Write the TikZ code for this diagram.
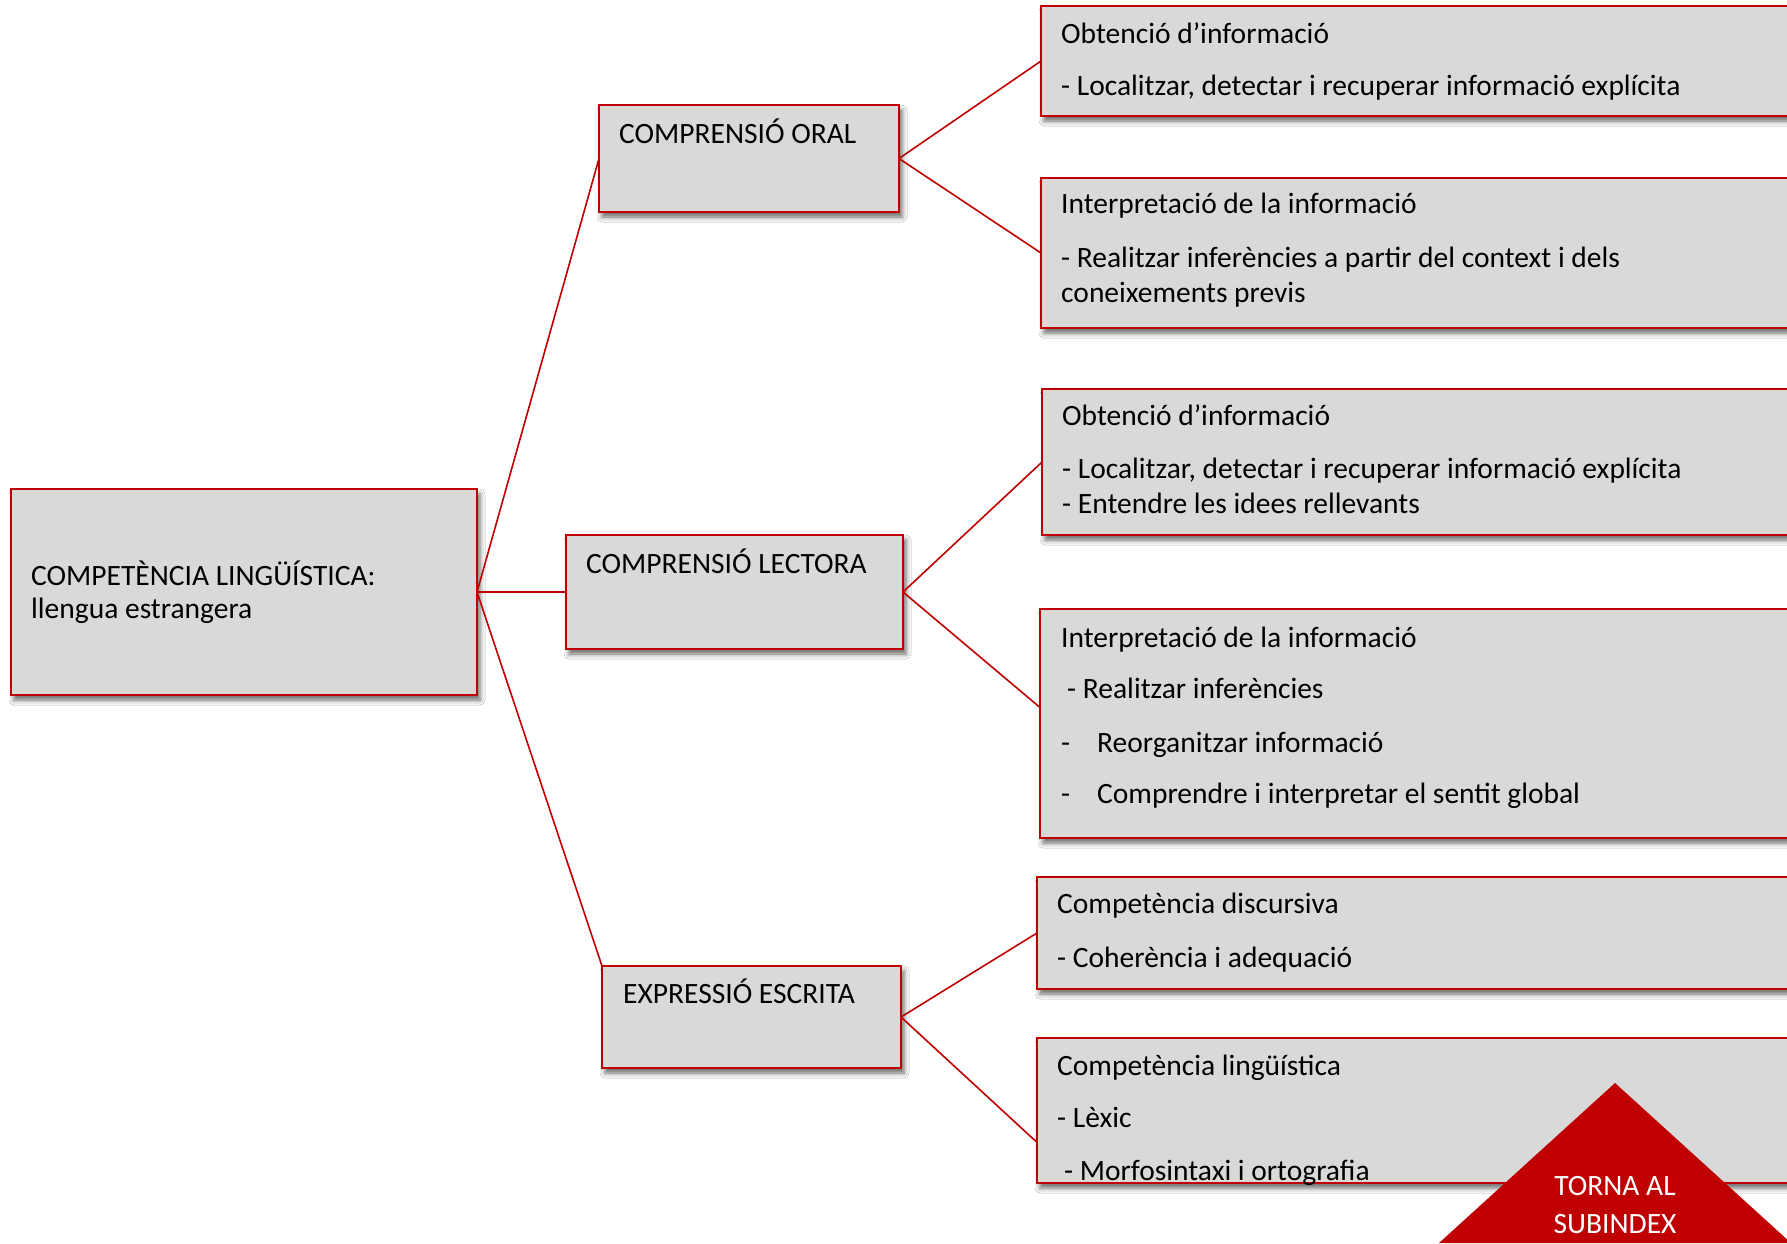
\documentclass[tikz,border=0pt]{standalone}
\usepackage{fontspec}
\setmainfont{Carlito}
\usetikzlibrary{shadows.blur,calc}
\definecolor{dred}{HTML}{C00000}
\definecolor{boxgray}{HTML}{D9D9D9}
\begin{document}
\begin{tikzpicture}[x=1pt,y=-1pt,
  box/.style={draw=dred, line width=2.2pt, fill=boxgray, rectangle, inner sep=0pt, outer sep=0pt, anchor=north west,
    blur shadow={shadow xshift=3pt, shadow yshift=-5pt, shadow blur radius=5pt, shadow opacity=60}},
  txt/.style={inner sep=0pt, anchor=base west, font=\fontsize{29.5}{34}\selectfont, text=black},
  link/.style={draw=dred, line width=1.6pt}]
\useasboundingbox (0,0) rectangle (1787,1243);
\fill[white] (0,0) rectangle (1787,1243);

% boxes
\node[box, minimum width=466pt, minimum height=206pt] (root) at (11,489) {};
\node[box, minimum width=300pt, minimum height=107pt] (oral) at (599,105) {};
\node[box, minimum width=337pt, minimum height=114pt] (lect) at (566,535) {};
\node[box, minimum width=299pt, minimum height=102pt] (escr) at (602,966) {};
\node[box, minimum width=800pt, minimum height=110pt] (b1) at (1041,6) {};
\node[box, minimum width=800pt, minimum height=150pt] (b2) at (1041,178) {};
\node[box, minimum width=800pt, minimum height=146pt] (b3) at (1042,389) {};
\node[box, minimum width=800pt, minimum height=229pt] (b4) at (1040,609) {};
\node[box, minimum width=800pt, minimum height=112pt] (b5) at (1037,877) {};
\node[box, minimum width=800pt, minimum height=145pt] (b6) at (1037,1038) {};

\coordinate (b4in) at ($(b4.north west)!0.43!(b4.south west)$);
\coordinate (b6in) at ($(b6.north west)!0.72!(b6.south west)$);

% connectors
\draw[link] (root.east) -- (oral.west);
\draw[link] (root.east) -- (lect.west);
\draw[link] (root.east) -- (escr.north west);
\draw[link] (oral.east) -- (b1.west);
\draw[link] (oral.east) -- (b2.west);
\draw[link] (lect.east) -- (b3.west);
\draw[link] (lect.east) -- (b4in);
\draw[link] (escr.east) -- (b5.west);
\draw[link] (escr.east) -- (b6in);

% texts
\node[txt] (rootA) at (31,585) {COMPETÈNCIA LINGÜÍSTICA:};
\node[txt] (rootB) at (31,618) {llengua estrangera};
\node[txt] (oralT) at (619,143) {COMPRENSIÓ ORAL};
\node[txt] (lectT) at (586,573) {COMPRENSIÓ LECTORA};
\node[txt] (escrT) at (623,1003) {EXPRESSIÓ ESCRITA};

\node[txt] (b1a) at (1061,43) {Obtenció d’informació};
\node[txt] (b1b) at (1061,95) {- Localitzar, detectar i recuperar informació explícita};

\node[txt] (b2a) at (1061,213) {Interpretació de la informació};
\node[txt] (b2b) at (1061,267) {- Realitzar inferències a partir del context i dels};
\node[txt] (b2c) at (1061,302) {coneixements previs};

\node[txt] (b3a) at (1062,425) {Obtenció d’informació};
\node[txt] (b3b) at (1062,478) {- Localitzar, detectar i recuperar informació explícita};
\node[txt] (b3c) at (1062,513) {- Entendre les idees rellevants};

\node[txt] (b4a) at (1061,647) {Interpretació de la informació};
\node[txt] (b4b) at (1067,698) {- Realitzar inferències};
\node[txt] (b4c) at (1061,752) {-};
\node[txt] (b4cc) at (1097,752) {Reorganitzar informació};
\node[txt] (b4d) at (1061,803) {-};
\node[txt] (b4dd) at (1097,803) {Comprendre i interpretar el sentit global};

\node[txt] (b5a) at (1057,913) {Competència discursiva};
\node[txt] (b5b) at (1057,967) {- Coherència i adequació};

\node[txt] (b6a) at (1057,1075) {Competència lingüística};
\node[txt] (b6b) at (1057,1127) {- Lèxic};
\node[txt] (b6c) at (1064,1180) {- Morfosintaxi i ortografia};

% return triangle
\fill[dred] (1615,1083) -- (1439,1243) -- (1791,1243) -- cycle;
\node[txt, anchor=base, text=white] (torna1) at (1615,1195) {TORNA AL};
\node[txt, anchor=base, text=white] (torna2) at (1615,1233) {SUBINDEX};
\end{tikzpicture}
\end{document}
